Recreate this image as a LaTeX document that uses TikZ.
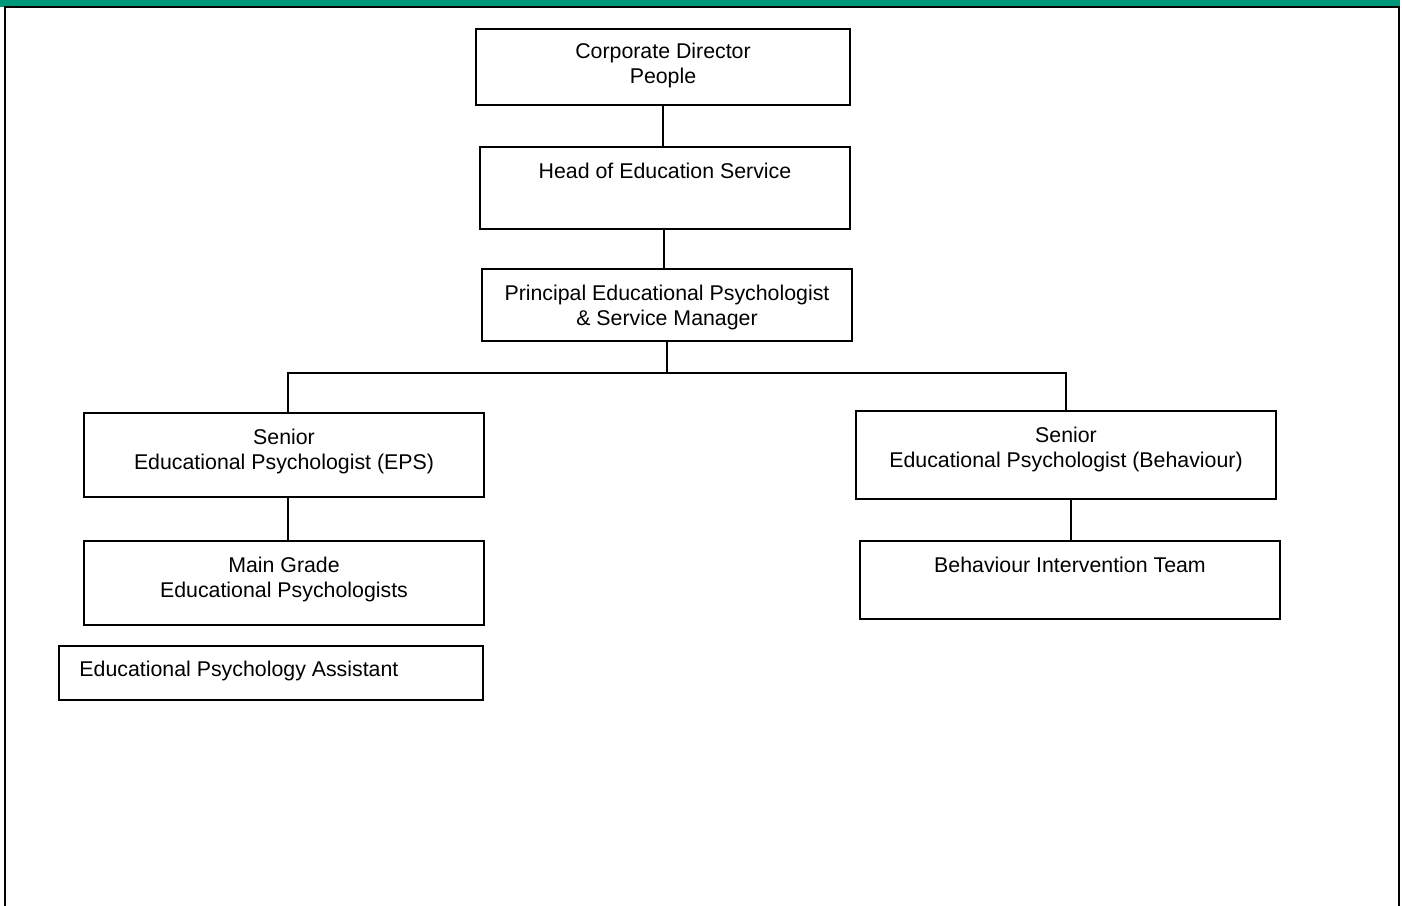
\documentclass[tikz,border=0pt]{standalone}
\usepackage{fontspec}
\setmainfont{Liberation Sans}
\definecolor{barGreen}{RGB}{0,152,122}
\begin{document}
\begin{tikzpicture}[line cap=rect, line join=miter, x=0.75pt, y=-0.75pt,
        post/.style={draw, line width=1.2pt, inner sep=0pt},
        txt/.style={anchor=north, inner sep=0pt, align=center,
            font=\fontsize{16}{18.75}\selectfont},
        link/.style={line width=1.2pt}]
    \useasboundingbox (0, 0) rectangle (1402, 906);

    % Page frame
    \fill[barGreen] (0, 0) rectangle (1400, 7);
    \draw[line width=1.5pt] (5, 906) -- (5, 7.5) -- (1399, 7.5) -- (1399, 906);

    % Top of the chain
    \node[post, minimum width=280.5pt, minimum height=57pt] (cdp) at (663, 67) {};
    \node[txt] (cdpText) at ([yshift=-15*0.75pt]cdp.north) {Corporate Director\\People};

    \node[post, minimum width=277.5pt, minimum height=61.5pt] (hes) at (665, 188) {};
    \node[txt] (hesText) at ([yshift=-17*0.75pt]hes.north) {Head of Education Service};

    \node[post, minimum width=277.5pt, minimum height=54pt] (pep) at (667, 305) {};
    \node[txt] (pepText) at ([yshift=-17*0.75pt]pep.north) {Principal Educational Psychologist\\\& Service Manager};

    % Left branch
    \node[post, minimum width=300pt, minimum height=63pt] (seps) at (284, 455) {};
    \node[txt] (sepsText) at ([yshift=-17*0.75pt]seps.north) {Senior\\Educational Psychologist (EPS)};

    \node[post, minimum width=300pt, minimum height=63pt] (mgep) at (284, 583) {};
    \node[txt] (mgepText) at ([yshift=-17*0.75pt]mgep.north) {Main Grade\\Educational Psychologists};

    \node[post, minimum width=318pt, minimum height=40.5pt] (epa) at (271, 673) {};
    \node[txt, anchor=north west] (epaText) at ([xshift=21*0.75pt, yshift=-16*0.75pt]epa.north west) {Educational Psychology Assistant};

    % Right branch
    \node[post, minimum width=315pt, minimum height=66pt] (sbeh) at (1066, 455) {};
    \node[txt] (sbehText) at ([yshift=-17*0.75pt]sbeh.north) {Senior\\Educational Psychologist (Behaviour)};

    \node[post, minimum width=315pt, minimum height=58.5pt] (bit) at (1070, 580) {};
    \node[txt] (bitText) at ([yshift=-17*0.75pt]bit.north) {Behaviour Intervention Team};

    % Lines
    \coordinate (busL) at (288, 373);
    \coordinate (busR) at (1066, 373);
    \draw[link] (cdp.south) -- (cdp.south |- hes.north);
    \draw[link] ([xshift=-0.75pt]hes.south) -- ([xshift=-0.75pt]hes.south |- pep.north);
    \draw[link] (pep.south) -- (pep.south |- busL);
    \draw[link] (busL |- seps.north) -- (busL) -- (busR) -- (busR |- sbeh.north);
    \draw[link] (busL |- seps.south) -- (busL |- mgep.north);
    \draw[link] ([xshift=5*0.75pt]sbeh.south) -- ([xshift=5*0.75pt]sbeh.south |- bit.north);
\end{tikzpicture}
\end{document}
